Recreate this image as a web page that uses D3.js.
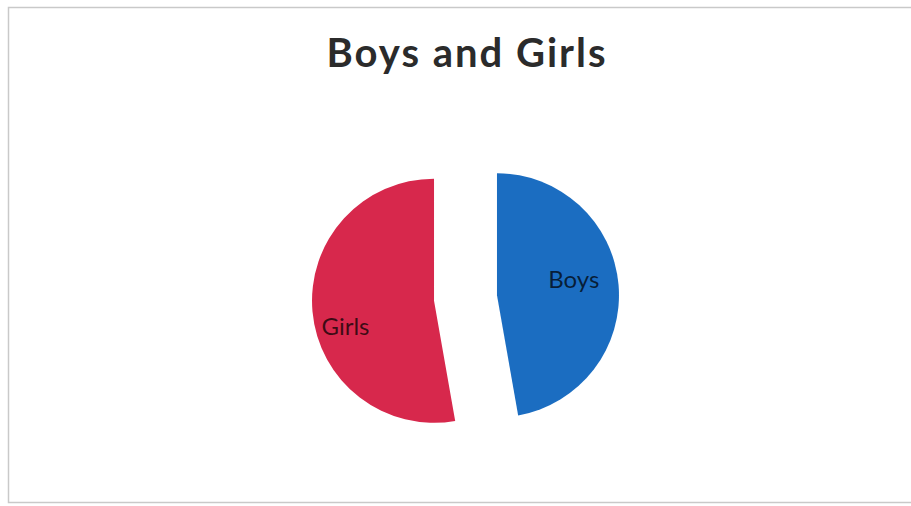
<!DOCTYPE html>
<html>
<head>
<meta charset="utf-8">
<script src="https://cdn.jsdelivr.net/npm/d3@7"></script>
<style>
  html, body { margin: 0; padding: 0; background: #fff; }
  svg { display: block; }
</style>
</head>
<body>
<svg id="chart" width="911" height="506"></svg>
<script>
// Data
const categories = ["Boys", "Girls"];
const values = [17, 19];
const colors = ["#1b6dc1", "#d7284c"];
const title = "Boys and Girls";

const W = 911, H = 506;
const svg = d3.select("#chart");

// Chart area frame
svg.append("rect")
  .attr("x", 8.5).attr("y", 7.5)
  .attr("width", W + 20).attr("height", 495)
  .attr("fill", "#fff")
  .attr("stroke", "#c9c9c9")
  .attr("stroke-width", 1.5);

// Title
svg.append("text")
  .attr("x", 467).attr("y", 67)
  .attr("text-anchor", "middle")
  .attr("font-family", "Lato, 'Open Sans', sans-serif")
  .attr("font-weight", "bold")
  .attr("font-size", 40)
  .attr("letter-spacing", 2)
  .attr("fill", "#2b2b2b")
  .text(title);

// Pie
const radius = 122;
const explode = 31.6;
const data = categories.map((c, i) => ({ name: c, value: values[i], color: colors[i] }));

const pie = d3.pie().value(d => d.value).sort(null);
const arc = d3.arc().innerRadius(0).outerRadius(radius);
const arcs = pie(data);

const g = svg.append("g")
  .attr("transform", "translate(465.5,298)");

const slices = g.selectAll("g.slice")
  .data(arcs)
  .enter().append("g")
  .attr("class", "slice")
  .attr("transform", d => {
    const a = (d.startAngle + d.endAngle) / 2;
    return `translate(${Math.sin(a) * explode},${-Math.cos(a) * explode})`;
  });

slices.append("path")
  .attr("d", arc)
  .attr("fill", d => d.data.color);

// Slice labels: "best fit" placement inside each slice
const labelRadius = [0.64, 0.72];
const labelShift = [[-1, -9], [-1, 18]];
slices.append("text")
  .attr("transform", (d, i) => {
    const r = radius * labelRadius[i];
    const la = d3.arc().innerRadius(r).outerRadius(r);
    const [x, y] = la.centroid(d);
    return `translate(${x + labelShift[i][0]},${y + labelShift[i][1]})`;
  })
  .attr("dy", "0.35em")
  .attr("text-anchor", "middle")
  .attr("font-family", "Lato, 'Open Sans', sans-serif")
  .attr("font-size", 24)
  .attr("fill", "#000")
  .attr("fill-opacity", 0.72)
  .text(d => d.data.name);
</script>
</body>
</html>
